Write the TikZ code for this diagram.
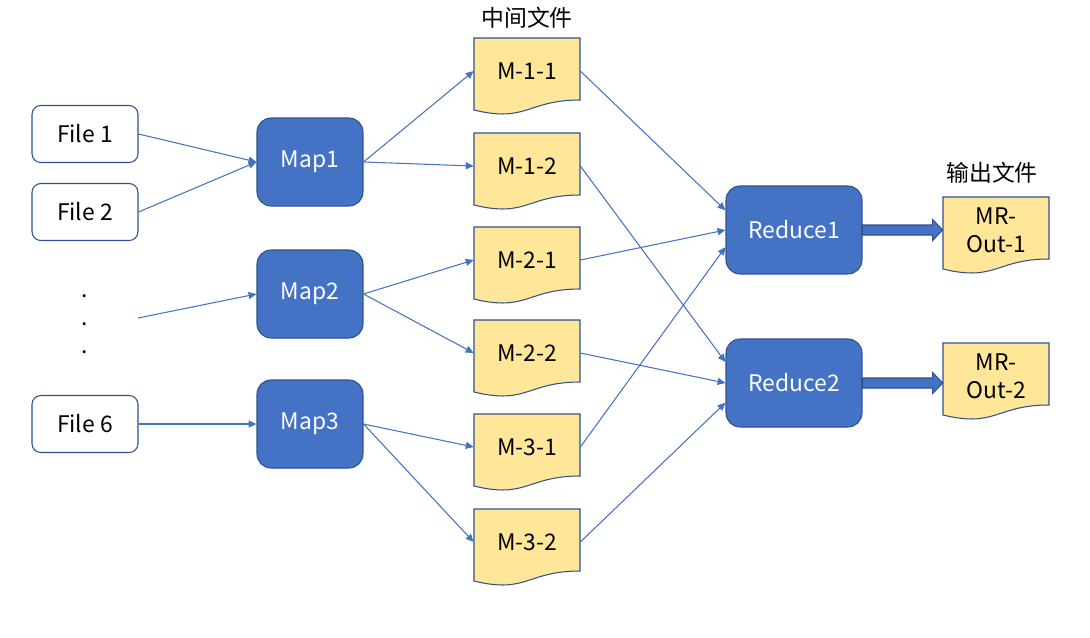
\documentclass[tikz,border=0pt]{standalone}
\usepackage{fontspec}
\setmainfont{Noto Sans CJK SC}
\usepackage{tikz}
\usetikzlibrary{calc, positioning}
\usetikzlibrary{arrows.meta}

\definecolor{mapblue}{HTML}{4472C4}
\definecolor{mapline}{HTML}{2F528F}
\definecolor{docyellow}{HTML}{FFE699}

% fichier intermediaire : rectangle au bas ondule
\newcommand{\docfile}[4]{%
	\filldraw[docshape] (#2,#3) -- ++(106,0) -- ++(0,62)
		.. controls +(-53,0) and +(53,13) .. (#2,#3+72) -- cycle;
	\node[docnode] (#1) at (#2+53,#3+33) {#4};
}
% grosse fleche vers la sortie
\newcommand{\bigarrow}[2]{%
	\filldraw[bigarrow] ($(#1.east)+(0,-5)$) -- ($(#1.east -| #2.west)+(-10,-5)$)
		-- ($(#1.east -| #2.west)+(-10,-10.5)$) -- (#1.east -| #2.west)
		-- ($(#1.east -| #2.west)+(-10,10.5)$) -- ($(#1.east -| #2.west)+(-10,5)$)
		-- ($(#1.east)+(0,5)$) -- cycle;
}

\begin{document}
\begin{tikzpicture}[
		x=0.02cm, y=-0.02cm,
		every node/.style={font=\fontsize{13}{16}\selectfont},
		file/.style={rectangle, rounded corners=5pt, draw=mapline, fill=white, line width=0.6pt, minimum width=2.12cm, minimum height=1.14cm},
		map/.style={rectangle, rounded corners=8pt, draw=mapline, fill=mapblue, text=white, line width=0.6pt, minimum width=2.12cm, minimum height=1.76cm},
		reduce/.style={map, minimum width=2.72cm},
		docshape/.style={draw=mapline, fill=docyellow, line width=0.6pt},
		docnode/.style={minimum width=2.12cm, minimum height=1.32cm, inner sep=0pt, align=center},
		bigarrow/.style={draw=mapline, fill=mapblue, line width=0.6pt},
		link/.style={->, draw=mapblue, line width=0.6pt},
		>={Triangle[length=4.5pt, width=4pt]}
		]
		\useasboundingbox (0,0) rectangle (1090,637);
		
		% Les fichiers d'entree
		\node[file] (F1) at (85,134) {File 1};
		\node[file] (F2) at (85,212) {File 2};
		\node[inner sep=1pt] (p1) at (85,296) {.};
		\node[inner sep=1pt] (p2) at (85,324) {.};
		\node[inner sep=1pt] (p3) at (85,352) {.};
		\coordinate (src) at (138,318);
		\node[file] (F6) at (85,424) {File 6};
		
		% Les map
		\node[map] (M1) at (310,162) {Map1};
		\node[map] (M2) at (310,294) {Map2};
		\node[map] (M3) at (310,424) {Map3};
		
		% Les fichiers intermediaires
		\node (lblmid) at (527,18) {中间文件};
		\docfile{D11}{474}{38}{M-1-1}
		\docfile{D12}{474}{133}{M-1-2}
		\docfile{D21}{474}{227}{M-2-1}
		\docfile{D22}{474}{320}{M-2-2}
		\docfile{D31}{474}{414}{M-3-1}
		\docfile{D32}{474}{509}{M-3-2}
		
		% Les reduce et les sorties
		\node[reduce] (R1) at (794,230) {Reduce1};
		\node[reduce] (R2) at (794,383) {Reduce2};
		\node (lblout) at (992,173) {输出文件};
		\docfile{O1}{943}{197}{MR-\\Out-1}
		\docfile{O2}{943}{343}{MR-\\Out-2}
		
		% Les liens
		\draw[link] (F1.east) -- (M1.west);
		\draw[link] (F2.east) -- (M1.west);
		\draw[link] (src) -- (M2.west);
		\draw[link] (F6.east) -- (M3.west);
		\draw[link] (M1.east) -- (D11.west);
		\draw[link] (M1.east) -- (D12.west);
		\draw[link] (M2.east) -- (D21.west);
		\draw[link] (M2.east) -- (D22.west);
		\draw[link] (M3.east) -- (D31.west);
		\draw[link] (M3.east) -- (D32.west);
		\draw[link] (D11.east) -- (R1.164);
		\draw[link] (D21.east) -- (R1.west);
		\draw[link] (D31.east) -- (R1.194);
		\draw[link] (D12.east) -- (R2.163);
		\draw[link] (D22.east) -- (R2.west);
		\draw[link] (D32.east) -- (R2.196);
		\bigarrow{R1}{O1}
		\bigarrow{R2}{O2}
	\end{tikzpicture}
\end{document}
